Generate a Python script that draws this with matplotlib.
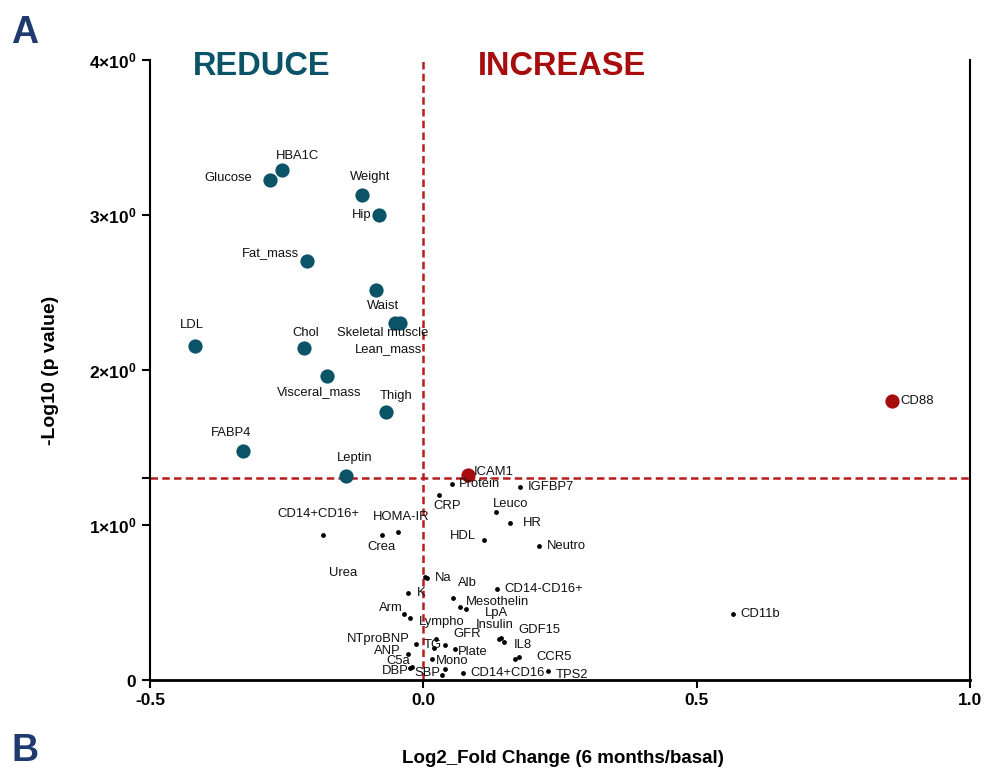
import matplotlib
matplotlib.use('Agg')
import matplotlib.pyplot as plt
from matplotlib.ticker import FixedLocator, FuncFormatter

plt.rcParams['font.family'] = ['Liberation Sans', 'DejaVu Sans']
plt.rcParams['mathtext.fontset'] = 'custom'
plt.rcParams['mathtext.rm'] = 'Liberation Sans'
plt.rcParams['mathtext.bf'] = 'Liberation Sans:bold'

# Significant decreases (teal)
down_names = ['Glucose', 'HBA1C', 'Weight', 'Hip', 'Fat_mass', 'Waist',
              'Skeletal muscle', 'Lean_mass', 'LDL', 'Chol', 'Visceral_mass',
              'Thigh', 'FABP4', 'Leptin']
down_fc = [-0.281, -0.259, -0.112, -0.081, -0.213, -0.087,
           -0.052, -0.043, -0.418, -0.218, -0.176,
           -0.068, -0.330, -0.142]
down_p = [3.226, 3.290, 3.129, 3.000, 2.703, 2.516,
          2.303, 2.303, 2.155, 2.142, 1.961,
          1.729, 1.477, 1.316]

# Significant increases (red)
up_names = ['CD88', 'ICAM1']
up_fc = [0.857, 0.082]
up_p = [1.800, 1.323]

# Not significant (black)
ns_names = ['Protein', 'IGFBP7', 'CRP', 'Leuco', 'HR', 'HDL', 'Neutro',
            'CD14+CD16+', 'Crea', 'HOMA-IR', 'Urea', 'Na', 'K', 'Alb',
            'CD14-CD16+', 'Mesothelin', 'LpA', 'Arm', 'Lympho', 'Insulin',
            'GDF15', 'IL8', 'NTproBNP', 'GFR', 'TG', '', 'Plate', 'ANP',
            'C5a', 'DBP', 'Mono', 'SBP', '', 'CD14+CD16', 'CCR5', '',
            'TPS2', 'CD11b']
ns_fc = [0.052, 0.177, 0.029, 0.132, 0.159, 0.111, 0.212,
         -0.183, -0.076, -0.046, 0.002, 0.007, -0.029, 0.054,
         0.135, 0.067, 0.078, -0.035, -0.024, 0.142,
         0.138, 0.148, -0.013, 0.040, 0.023, 0.019, 0.058, -0.029,
         -0.021, -0.024, 0.015, 0.034, 0.040, 0.073, 0.175, 0.168,
         0.228, 0.566]
ns_p = [1.263, 1.247, 1.195, 1.086, 1.015, 0.903, 0.865,
        0.935, 0.935, 0.955, 0.665, 0.656, 0.563, 0.527,
        0.587, 0.473, 0.456, 0.426, 0.402, 0.268,
        0.262, 0.243, 0.232, 0.228, 0.265, 0.205, 0.200, 0.168,
        0.082, 0.075, 0.135, 0.032, 0.071, 0.047, 0.146, 0.135,
        0.058, 0.424]

# label placement (pixel offsets from the point, horizontal alignment)
label_pos = {
    'Glucose': (-18, 2, 'right'), 'HBA1C': (16, 14, 'center'),
    'Weight': (8, 18, 'center'), 'Hip': (-8, 0, 'right'),
    'Fat_mass': (-8, 8, 'right'), 'Waist': (7, -16, 'center'),
    'Skeletal muscle': (-12, -10, 'center'), 'Lean_mass': (-11, -26, 'center'),
    'LDL': (-3, 21, 'center'), 'Chol': (2, 15, 'center'),
    'Visceral_mass': (-8, -16, 'center'), 'Thigh': (10, 16, 'center'),
    'FABP4': (-12, 18, 'center'), 'Leptin': (9, 18, 'center'),
    'CD88': (8, 0, 'left'), 'ICAM1': (5, 3, 'left'),
    'Protein': (7, 0, 'left'), 'IGFBP7': (8, 0, 'left'),
    'CRP': (8, -11, 'center'), 'Leuco': (15, 8, 'center'),
    'HR': (13, 0, 'left'), 'HDL': (-8, 4, 'right'), 'Neutro': (8, 0, 'left'),
    'CD14+CD16+': (-5, 21, 'center'), 'HOMA-IR': (3, 15, 'center'),
    'Crea': (0, -12, 'center'), 'Urea': (-81, 4, 'center'),
    'Na': (8, 0, 'left'), 'K': (9, 0, 'left'), 'Alb': (14, 15, 'center'),
    'CD14-CD16+': (7, 0, 'left'), 'Mesothelin': (6, 5, 'left'),
    'LpA': (30, -4, 'center'), 'Arm': (-2, 6, 'right'),
    'Lympho': (9, -4, 'left'), 'Insulin': (-6, 13, 'center'),
    'GDF15': (19, 9, 'left'), 'IL8': (9, -3, 'left'),
    'NTproBNP': (-7, 5, 'right'), 'GFR': (22, 11, 'center'),
    'TG': (-3, -6, 'center'), 'Plate': (3, -3, 'left'),
    'ANP': (-7, 3, 'right'), 'C5a': (-2, 6, 'right'), 'DBP': (-2, -3, 'right'),
    'Mono': (4, -2, 'left'), 'SBP': (-2, 2, 'right'),
    'CD14+CD16': (7, 0, 'left'), 'CCR5': (17, 0, 'left'),
    'TPS2': (8, -4, 'left'), 'CD11b': (7, 0, 'left'),
}

teal = '#0b5366'
red = '#a80d0d'
line_red = '#b81c1c'
navy = '#1f3a6e'

fig = plt.figure(figsize=(9.87, 7.74), dpi=100)
ax = fig.add_axes([0.152, 0.1214, 0.831, 0.8011])

# threshold lines
ax.axhline(1.301, color=line_red, lw=1.8, dashes=(3, 1.7), zorder=1)
ax.axvline(0.0, color=line_red, lw=1.8, dashes=(3, 1.7), zorder=1)

ax.scatter(ns_fc, ns_p, s=12, color='black', zorder=3, linewidths=0)
ax.scatter(down_fc, down_p, s=105, color=teal, zorder=3, linewidths=0)
ax.scatter(up_fc, up_p, s=105, color=red, zorder=3, linewidths=0)

for names, xs, ys in [(down_names, down_fc, down_p), (up_names, up_fc, up_p),
                      (ns_names, ns_fc, ns_p)]:
    for n, x, y in zip(names, xs, ys):
        if not n:
            continue
        dx, dy, ha = label_pos[n]
        ax.annotate(n, (x, y), xytext=(dx, dy), textcoords='offset pixels',
                    ha=ha, va='center', fontsize=9.4, color='#111111', zorder=4)

ax.set_xlim(-0.5, 1.0)
ax.set_ylim(0, 4)
ax.spines['top'].set_visible(False)
ax.spines['left'].set_linewidth(1.5)
ax.spines['right'].set_linewidth(1.5)
ax.spines['bottom'].set_linewidth(2.0)

ax.xaxis.set_major_locator(FixedLocator([-0.5, 0.0, 0.5, 1.0]))
ax.xaxis.set_major_formatter(FuncFormatter(lambda v, p: f'{v:.1f}'))
ax.yaxis.set_major_locator(FixedLocator([0, 1, 1.301, 2, 3, 4]))


def yfmt(v, p):
    if v == 0:
        return r'$\mathbf{0}$'
    if abs(v - round(v)) > 1e-6:
        return ''
    return r'$\mathbf{%d{\times}10^{0}}$' % round(v)


ax.yaxis.set_major_formatter(FuncFormatter(yfmt))
ax.tick_params(axis='both', length=6, width=1.5, direction='out',
               labelsize=12.5, colors='black')
ax.tick_params(axis='y', right=False, labelright=False)
for lbl in ax.get_xticklabels():
    lbl.set_fontweight('bold')

fig.text(0.570, 0.0194, 'Log2_Fold Change (6 months/basal)', fontsize=13.5,
         fontweight='bold', ha='center', va='center')
ax.set_ylabel('-Log10 (p value)', fontsize=14, fontweight='bold', labelpad=22)

fig.text(0.265, 0.914, 'REDUCE', color=teal, fontsize=23.5, fontweight='bold',
         ha='center', va='center')
fig.text(0.569, 0.914, 'INCREASE', color=red, fontsize=23.5, fontweight='bold',
         ha='center', va='center')
fig.text(0.025, 0.958, 'A', color=navy, fontsize=27, fontweight='bold',
         ha='center', va='center')
fig.text(0.025, 0.030, 'B', color=navy, fontsize=27, fontweight='bold',
         ha='center', va='center')

fig.savefig('out.png', dpi=100)
